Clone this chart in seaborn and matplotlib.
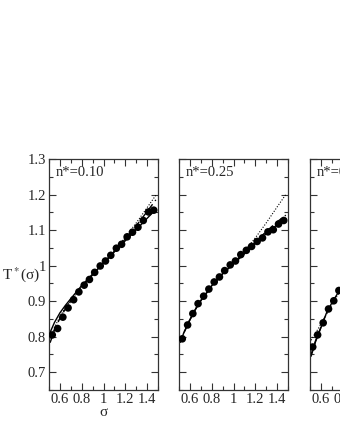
import numpy as np
import pandas as pd
import matplotlib
matplotlib.use("Agg")
import matplotlib.pyplot as plt
from matplotlib.ticker import MultipleLocator, FuncFormatter
import seaborn as sns

sns.set_style("ticks")
plt.rcParams['font.family'] = ['Liberation Serif', 'DejaVu Serif']
plt.rcParams['mathtext.fontset'] = 'stix'

# simulation points
sigma_pts = [0.530, 0.579, 0.627, 0.675, 0.726, 0.774, 0.823, 0.871, 0.919, 0.970,
             1.018, 1.067, 1.118, 1.166, 1.217, 1.266, 1.316, 1.365, 1.413, 1.461]
t_pts_010 = [0.805, 0.823, 0.855, 0.881, 0.904, 0.926, 0.945, 0.961, 0.981, 0.999,
             1.013, 1.029, 1.049, 1.060, 1.081, 1.094, 1.108, 1.127, 1.151, 1.156]
t_pts_025 = [0.794, 0.833, 0.865, 0.893, 0.914, 0.934, 0.954, 0.968, 0.986, 1.002,
             1.013, 1.031, 1.043, 1.054, 1.068, 1.078, 1.095, 1.101, 1.117, 1.127]
sigma_pts_040 = [0.525, 0.570, 0.621, 0.670, 0.718, 0.765, 0.814, 0.862]
t_pts_040 = [0.771, 0.805, 0.839, 0.878, 0.901, 0.930, 0.952, 0.972]

# theory curves
sigma_line = [0.51, 0.55, 0.60, 0.65, 0.70, 0.80, 0.90, 1.00, 1.10, 1.20, 1.30, 1.40, 1.48]
solid_010 = [0.812, 0.840, 0.867, 0.888, 0.907, 0.944, 0.976, 1.007, 1.039, 1.070, 1.101, 1.133, 1.158]
dash_010 = [0.783, 0.818, 0.852, 0.878, 0.900, 0.940, 0.974, 1.006, 1.040, 1.075, 1.112, 1.152, 1.185]
dot_010 = [0.795, 0.826, 0.857, 0.881, 0.902, 0.941, 0.975, 1.008, 1.043, 1.080, 1.120, 1.163, 1.198]

solid_025 = [0.785, 0.815, 0.848, 0.877, 0.902, 0.943, 0.977, 1.005, 1.033, 1.062, 1.090, 1.115, 1.132]
dash_025 = [0.783, 0.814, 0.847, 0.876, 0.901, 0.942, 0.977, 1.006, 1.035, 1.066, 1.096, 1.123, 1.142]
dot_025 = [0.787, 0.817, 0.849, 0.878, 0.903, 0.944, 0.979, 1.008, 1.040, 1.078, 1.120, 1.165, 1.200]

sigma_line_040 = [0.51, 0.55, 0.60, 0.65, 0.70, 0.80, 0.90]
solid_040 = [0.745, 0.785, 0.825, 0.866, 0.895, 0.945, 0.985]
dash_040 = [0.750, 0.788, 0.827, 0.866, 0.894, 0.944, 0.984]
dot_040 = [0.790, 0.810, 0.835, 0.862, 0.890, 0.940, 0.982]

labels = ["n*=0.10", "n*=0.25", "n*=0.40"]
panels = [
    (sigma_pts, t_pts_010, sigma_line, solid_010, dash_010, dot_010),
    (sigma_pts, t_pts_025, sigma_line, solid_025, dash_025, dot_025),
    (sigma_pts_040, t_pts_040, sigma_line_040, solid_040, dash_040, dot_040),
]

fig = plt.figure(figsize=(3.4, 4.4), dpi=100)
lefts = [49, 179, 310]
axes = []
for i, (sp, tp, sl, so, da, do) in enumerate(panels):
    ax = fig.add_axes([lefts[i] / 340, 50 / 440, 109 / 340, 231 / 440])
    sns.lineplot(x=sl, y=so, ax=ax, color='black', lw=1.0, linestyle='-')
    sns.lineplot(x=sl, y=da, ax=ax, color='black', lw=1.0, linestyle=(0, (5, 3)))
    sns.lineplot(x=sl, y=do, ax=ax, color='black', lw=0.8, linestyle=(0, (1, 1.5)))
    sns.scatterplot(x=sp, y=tp, ax=ax, color='black', s=30, edgecolor='none', zorder=5)
    ax.set_xlim(0.5, 1.5)
    ax.set_ylim(0.65, 1.3)
    ax.xaxis.set_major_locator(MultipleLocator(0.2))
    ax.xaxis.set_minor_locator(MultipleLocator(0.1))
    ax.yaxis.set_major_locator(MultipleLocator(0.1))
    ax.yaxis.set_minor_locator(MultipleLocator(0.05))
    ax.xaxis.set_major_formatter(FuncFormatter(lambda v, p: f"{v:g}"))
    ax.yaxis.set_major_formatter(FuncFormatter(lambda v, p: f"{v:g}"))
    ax.tick_params(which='both', direction='in', top=True, right=True,
                   labelsize=10.5, pad=2, width=0.8, color='#333333')
    ax.tick_params(which='major', length=5)
    ax.tick_params(which='minor', length=3)
    for s in ax.spines.values():
        s.set_linewidth(0.9)
        s.set_color('#333333')
    ax.text(0.06, 0.94, labels[i], transform=ax.transAxes, fontsize=10.5,
            ha='left', va='center')
    if i > 0:
        ax.tick_params(labelleft=False)
    axes.append(ax)

axes[0].set_xlabel("σ", fontsize=11, labelpad=0)
axes[0].set_ylabel("T$^*$(σ)", fontsize=11, rotation=0, ha='right', va='center')
axes[0].yaxis.set_label_coords(-0.075, 0.5)

fig.savefig("out.png", dpi=100)
